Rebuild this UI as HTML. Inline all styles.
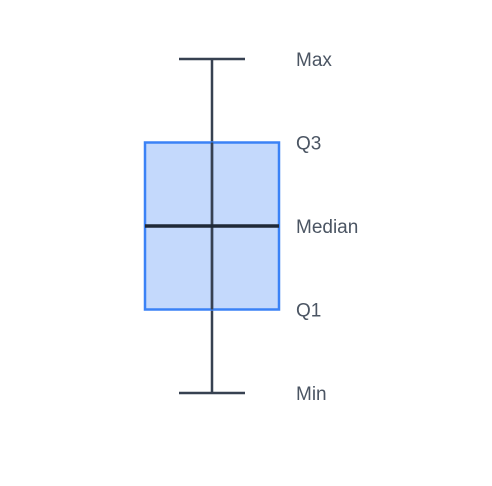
<!DOCTYPE html>
<html><head><meta charset="utf-8"><style>
html,body{margin:0;padding:0;background:#fff;}
svg{display:block;}
text{font-family:"Liberation Sans",sans-serif;font-size:19px;fill:#4b5563;}
</style></head><body>
<svg id="chart" width="492" height="486"></svg>
<script>
const statLabels = ["Min","Q1","Median","Q3","Max"];
const statValues = [0,25,50,75,100];
const svg = document.getElementById('chart');
const NS = 'http://www.w3.org/2000/svg';
const y = v => 393 - (v - 0) / 100 * 334;
const cx = 212, boxL = 145, boxR = 279, capL = 179, capR = 245;
function mk(tag, attrs){const e=document.createElementNS(NS,tag);for(const k in attrs)e.setAttribute(k,attrs[k]);svg.appendChild(e);return e;}
const [mn,q1,md,q3,mx] = statValues;
let e;
e = mk('line',{x1:cx,x2:cx,y1:y(mx),y2:y(mn),stroke:'#374151','stroke-width':2.5});


e = mk('rect',{x:boxL,y:y(q3),width:boxR-boxL,height:y(q1)-y(q3),fill:'rgba(59,130,246,0.3)',stroke:'#3b82f6','stroke-width':2.5});


e = mk('line',{x1:cx,x2:cx,y1:y(q3),y2:y(q1),stroke:'#374151','stroke-width':2.5});


e = mk('line',{x1:boxL,x2:boxR,y1:y(md),y2:y(md),stroke:'#1f2937','stroke-width':3.5});


e = mk('line',{x1:capL,x2:capR,y1:y(mx),y2:y(mx),stroke:'#374151','stroke-width':2.5});


e = mk('line',{x1:capL,x2:capR,y1:y(mn),y2:y(mn),stroke:'#374151','stroke-width':2.5});


statLabels.forEach((lab,i)=>{
  const t = mk('text',{x:296,y:y(statValues[i])+7});
  t.textContent = lab;
  
  
});
</script>
</body></html>
